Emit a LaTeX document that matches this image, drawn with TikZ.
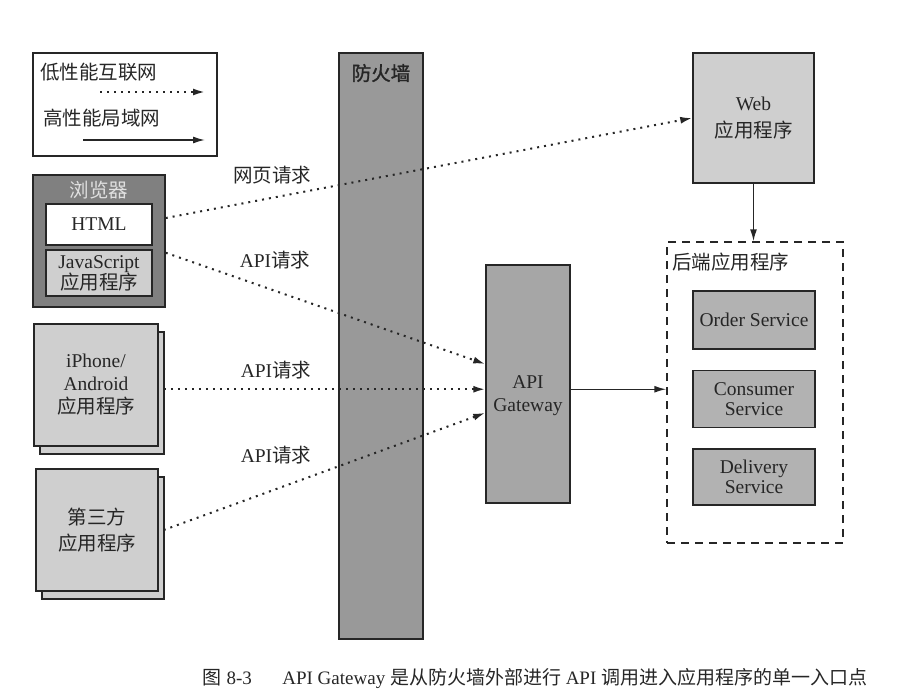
\documentclass[tikz,border=0pt]{standalone}
\usepackage{fontspec}
\setmainfont{Liberation Serif}
\newfontfamily\cjk{Noto Sans CJK SC}
\newfontfamily\cjkbold[FakeBold=1.5]{Noto Sans CJK SC}
\usetikzlibrary{shapes, arrows.meta, positioning, shadows}

\tikzset{
    box/.style={draw=black!85, line width=1.5pt, inner sep=0pt,
        align=center, text=black!85},
    lightbox/.style={box, fill=black!19},
    midbox/.style={box, fill=black!30},
    stack/.style={lightbox,
        copy shadow={shadow xshift=6pt, shadow yshift=-8pt}},
    internet/.style={line width=2pt, black!85, dash pattern=on 2pt off 5pt,
        -{Latex[length=12pt,width=7pt]}},
    lan/.style={line width=1.5pt, black!85,
        -{Latex[length=12pt,width=7pt]}}
}

\begin{document}
\begin{tikzpicture}[x=1pt, y=-1pt, font=\fontsize{19.5}{23}\selectfont]
\useasboundingbox (0,0) rectangle (909,699);

% Legend
\node[box,
    minimum width=184pt,
    minimum height=103pt] (legend) at (125,104.5) {};
\node[anchor=west, inner sep=0pt, text=black!85] (slowtxt) at (40,72) {\cjk 低性能互联网};
\coordinate (slowA) at (100,92);
\coordinate (slowB) at (205,92);
\node[anchor=west, inner sep=0pt, text=black!85] (fasttxt) at (43,118) {\cjk 高性能局域网};
\coordinate (fastA) at (83,140);
\coordinate (fastB) at (205,140);

% Browser
\node[box, fill=black!50,
    minimum width=132pt,
    minimum height=132pt] (browser) at (99,241) {};
\node[text=black!12] (brlabel) at (99,190) {\cjk 浏览器};
\node[box, fill=white,
    minimum width=106pt,
    minimum height=41pt] (html) at (99,224.5) {HTML};
\node[lightbox,
    minimum width=106pt,
    minimum height=46pt,
    font=\fontsize{19.5}{21}\selectfont] (js) at (99,273) {JavaScript\\{\cjk 应用程序}};

% Mobile and third party clients
\node[stack,
    minimum width=124pt,
    minimum height=122pt] (mobile) at (96,385) {iPhone/\\Android\\{\cjk 应用程序}};
\node[stack,
    minimum width=122pt,
    minimum height=122pt,
    font=\fontsize{19.5}{26}\selectfont] (third) at (97,530) {{\cjk 第三方}\\{\cjk 应用程序}};

% Firewall
\node[box, fill=black!40,
    minimum width=84pt,
    minimum height=586pt] (firewall) at (381,346) {};
\node[text=black!85] (fwlabel) at (381,73) {\cjkbold 防火墙};

% API Gateway
\node[box, fill=black!35,
    minimum width=84pt,
    minimum height=238pt] (gateway) at (528,384) {\rule{0pt}{37pt}API\\Gateway};

% Web application
\node[lightbox,
    minimum width=121pt,
    minimum height=130pt,
    font=\fontsize{19.5}{27}\selectfont] (webapp) at (753.5,118) {Web\\{\cjk 应用程序}};

% Backend
\node[draw=black!85, line width=1.5pt, dash pattern=on 8pt off 6pt,
    minimum width=176pt,
    minimum height=301pt] (backend) at (755,392.5) {};
\node[anchor=west, inner sep=0pt, text=black!85] (belabel) at (672,262) {\cjk 后端应用程序};
\node[midbox,
    minimum width=122pt,
    minimum height=58pt] (order) at (754,320) {Order Service};
\node[midbox,
    below=20pt of order,
    minimum width=122pt,
    minimum height=57pt,
    font=\fontsize{19.5}{20}\selectfont] (consumer) {Consumer\\Service};
\node[midbox,
    below=20pt of consumer,
    minimum width=122pt,
    minimum height=56pt,
    font=\fontsize{19.5}{20}\selectfont] (delivery) {Delivery\\Service};

% Request labels
\node[text=black!85] (lblweb) at (272,175) {{\cjk 网页请求}};
\node[text=black!85] (lblapia) at (275,260) {API{\cjk 请求}};
\node[text=black!85] (lblapib) at (276,370) {API{\cjk 请求}};
\node[text=black!85] (lblapic) at (276,455) {API{\cjk 请求}};

% Caption
\node[font=\fontsize{19}{22}\selectfont, text=black!85] (caption) at (535,678)
    {{\cjk 图} 8-3\hspace{1.6em}API Gateway {\cjk 是从防火墙外部进行} API {\cjk 调用进入应用程序的单一入口点}};

% Arrows
\draw[internet] (slowA) -- (slowB);
\draw[lan] (fastA) -- (fastB);
\draw[internet] (browser.19) -- (webapp.west);
\draw[internet] (browser.-10) -- (gateway.155);
\draw[internet] ([xshift=5pt]mobile.east |- gateway.-173) -- (gateway.-173);
\draw[internet] ([xshift=5pt]third.east) -- (gateway.-146);
\draw[lan] (gateway.-7) -- (gateway.-7 -| backend.west);
\draw[lan] (webapp.south) -- (webapp.south |- backend.north);
\end{tikzpicture}
\end{document}
